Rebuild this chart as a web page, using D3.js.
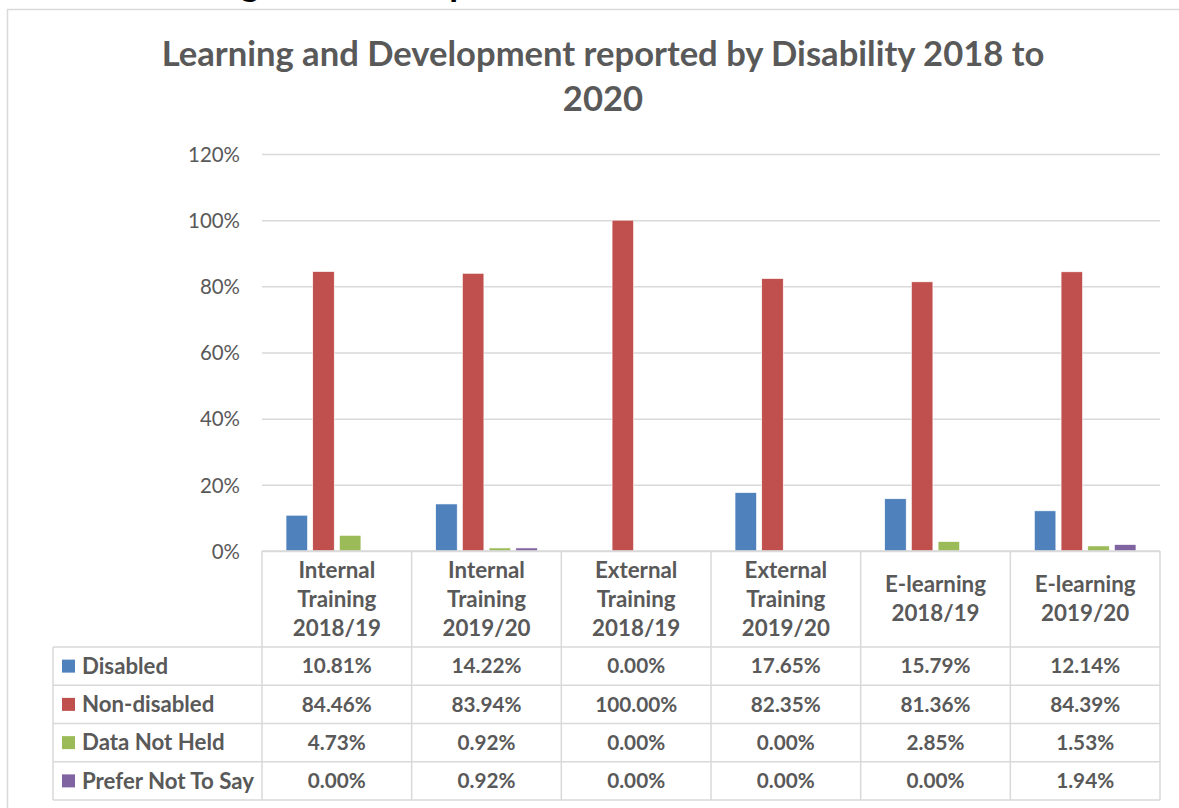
<!DOCTYPE html>
<html><head><meta charset="utf-8">
<script src="https://cdn.jsdelivr.net/npm/d3@7"></script>
<style>
html,body{margin:0;padding:0;background:#fff;}
svg{display:block;}
text{font-family:Lato,"Open Sans",sans-serif;}
</style></head>
<body>
<svg id="c" width="1179" height="808"></svg>
<script>
const categories = [
  ["Internal","Training","2018/19"],
  ["Internal","Training","2019/20"],
  ["External","Training","2018/19"],
  ["External","Training","2019/20"],
  ["E-learning","2018/19"],
  ["E-learning","2019/20"]
];
const seriesNames = ["Disabled","Non-disabled","Data Not Held","Prefer Not To Say"];
const seriesColors = ["#4F81BD","#C0504D","#9BBB59","#8064A2"];
const disabled    = [10.81, 14.22, 0.00, 17.65, 15.79, 12.14];
const nonDisabled = [84.46, 83.94, 100.00, 82.35, 81.36, 84.39];
const dataNotHeld = [4.73, 0.92, 0.00, 0.00, 2.85, 1.53];
const preferNot   = [0.00, 0.92, 0.00, 0.00, 0.00, 1.94];
const yTicks = [0, 20, 40, 60, 80, 100, 120];
const titleLines = ["Learning and Development reported by Disability 2018 to", "2020"];
const headingText = "Learning and Development";

const seriesValues = [disabled, nonDisabled, dataNotHeld, preferNot];
const textColor = "#595959", gridColor = "#D9D9D9";

const svg = d3.select("#c");

function fitSize(sel, target, base) {
  sel.style("font-size", base + "px");
  const w = sel.node().getComputedTextLength();
  const s = base * target / w;
  sel.style("font-size", s + "px");
  return s;
}

// partially visible document heading above the chart (only its descenders show)
const head = svg.append("text").attr("x", 0).attr("y", 0)
  .attr("font-weight", 700).attr("fill", "#000").style("font-size", "36px").text(headingText);
{
  const n = head.node();
  const gIdx = 7;
  const gx = n.getStartPositionOfChar(gIdx).x + n.getExtentOfChar(gIdx).width / 2;
  head.attr("x", 250 - gx).attr("y", -4);
}

// chart frame
svg.append("rect").attr("x", 7.5).attr("y", 9.5).attr("width", 1200).attr("height", 900)
  .attr("fill", "none").attr("stroke", gridColor).attr("stroke-width", 1.5);

// title
const t1 = svg.append("text").attr("x", 603).attr("y", 66).attr("text-anchor", "middle")
  .attr("font-weight", 700).attr("fill", textColor).text(titleLines[0]);
const tfs = fitSize(t1, 883, 30);
svg.append("text").attr("x", 603).attr("y", 111).attr("text-anchor", "middle")
  .attr("font-weight", 700).attr("fill", textColor).style("font-size", tfs + "px").text(titleLines[1]);

// scales
const plotL = 262, plotR = 1160, y0 = 551, yTop = 154;
const y = d3.scaleLinear().domain([0, 120]).range([y0, yTop]);
const x0 = d3.scaleBand().domain(d3.range(categories.length)).range([plotL, plotR]).paddingInner(0).paddingOuter(0);
const x1 = d3.scaleBand().domain(d3.range(seriesNames.length)).range([0, x0.bandwidth()])
  .paddingInner(0.195).paddingOuter(0.9);

// y axis
const yAxis = d3.axisLeft(y).tickValues(yTicks).tickSize(-(plotR - plotL)).tickFormat(d => d + "%").tickPadding(22);
const ga = svg.append("g").attr("transform", `translate(${plotL},0)`).call(yAxis);
ga.select(".domain").remove();
ga.selectAll(".tick line").attr("stroke", gridColor).attr("stroke-width", 1.5);
ga.selectAll(".tick text").attr("fill", textColor).style("font-size", "19px")
  .style("font-family", "Lato,'Open Sans',sans-serif").attr("dy", "0.35em");
{
  const lab = ga.selectAll(".tick text").filter(d => d === 120);
  const fs = fitSize(lab, 52, 19);
  ga.selectAll(".tick text").style("font-size", fs + "px");
}

// bars
const groups = svg.append("g").selectAll("g").data(categories).join("g")
  .attr("transform", (d, i) => `translate(${x0(i)},0)`);
groups.selectAll("rect").data((d, i) => seriesValues.map((s, k) => ({k, v: s[i]})))
  .join("rect")
  .attr("x", d => x1(d.k)).attr("width", x1.bandwidth())
  .attr("y", d => y(d.v)).attr("height", d => y0 - y(d.v))
  .attr("fill", d => seriesColors[d.k])
  .attr("stroke", "#fff").attr("stroke-width", 0.6);

// data table
const tableL = 53, headBottom = 647, rowH = 38.25;
const tg = svg.append("g");
const lineAttr = s => s.attr("stroke", gridColor).attr("stroke-width", 1.5);
const vx = d3.range(categories.length + 1).map(i => i < categories.length ? x0(i) : plotR);
vx.forEach(xv => lineAttr(tg.append("line").attr("x1", xv).attr("x2", xv).attr("y1", y0).attr("y2", headBottom + rowH * 4)));
lineAttr(tg.append("line").attr("x1", tableL).attr("x2", tableL).attr("y1", headBottom).attr("y2", headBottom + rowH * 4));
for (let r = 0; r <= 4; r++) {
  const yy = headBottom + rowH * r;
  lineAttr(tg.append("line").attr("x1", tableL).attr("x2", plotR).attr("y1", yy).attr("y2", yy));
}
lineAttr(tg.append("line").attr("x1", plotL).attr("x2", plotR).attr("y1", y0).attr("y2", y0));

// category labels
const probe = tg.append("text").attr("font-weight", 700).text("Training");
const cfs = fitSize(probe, 79, 19);
probe.remove();
categories.forEach((lines, i) => {
  const cx = x0(i) + x0.bandwidth() / 2;
  const lh = 29;
  const mid = (y0 + headBottom) / 2;
  const start = mid - (lines.length - 1) * lh / 2;
  lines.forEach((ln, j) => {
    tg.append("text").attr("x", cx).attr("y", start + j * lh).attr("dy", "0.35em")
      .attr("text-anchor", "middle").attr("font-weight", 700).attr("fill", textColor)
      .style("font-size", cfs + "px").text(ln);
  });
});

// legend column
const probe2 = tg.append("text").attr("font-weight", 700).text("Prefer Not To Say");
const lfs = fitSize(probe2, 172, 19);
probe2.remove();
const probe3 = tg.append("text").attr("font-weight", 700).text("10.81%");
const vfs = fitSize(probe3, 70, 18);
probe3.remove();

seriesNames.forEach((name, r) => {
  const cy = headBottom + rowH * r + rowH / 2;
  tg.append("rect").attr("x", 62).attr("y", cy - 6.5).attr("width", 13).attr("height", 13)
    .attr("fill", seriesColors[r]);
  tg.append("text").attr("x", 82).attr("y", cy).attr("dy", "0.35em")
    .attr("font-weight", 700).attr("fill", textColor).style("font-size", lfs + "px").text(name);
  seriesValues[r].forEach((v, i) => {
    tg.append("text").attr("x", x0(i) + x0.bandwidth() / 2).attr("y", cy).attr("dy", "0.35em")
      .attr("text-anchor", "middle").attr("font-weight", 700).attr("fill", textColor)
      .style("font-size", vfs + "px").text(v.toFixed(2) + "%");
  });
});
</script>
</body></html>
